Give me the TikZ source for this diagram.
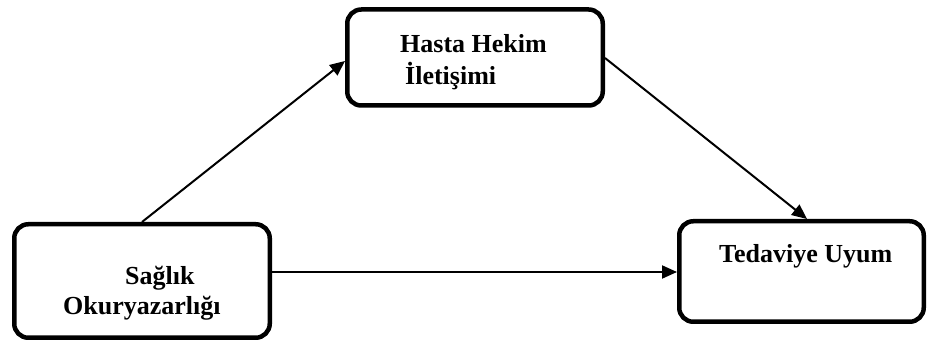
\documentclass[tikz,border=0pt]{standalone}
\usepackage{fontspec}
\setmainfont{Liberation Serif}
\usetikzlibrary{arrows.meta}
\begin{document}
\begin{tikzpicture}[x=1pt,y=-1pt,
  box/.style={draw=black, line width=4.5pt, rounded corners=14pt, inner sep=0pt},
  lbl/.style={font=\bfseries\fontsize{26}{30}\selectfont, inner sep=0pt, anchor=base west},
  conn/.style={line width=2pt, -{Triangle[length=15pt,width=13pt]}}]
\useasboundingbox (0,0) rectangle (927,347);
% boxes
\node[box, minimum width=255.5pt, minimum height=96pt] (hh) at (475,57.5) {};
\node[box, minimum width=255.5pt, minimum height=113.5pt] (sa) at (142,281) {};
\node[box, minimum width=244.5pt, minimum height=100.5pt] (tu) at (801.5,271.5) {};
% texts
\node[lbl] (t1) at (400,53) {Hasta Hekim};
\node[lbl] (t2) at (405,85) {İletişimi};
\node[lbl] (t3) at (125,285) {Sağlık};
\node[lbl] (t4) at (63,315) {Okuryazarlığı};
\node[lbl] (t5) at (719,263) {Tedaviye Uyum};
% connectors
\draw[conn] (sa.north west) ++(130,0) coordinate (s1) -- (hh.west |- 0,61) ;
\draw[conn] (hh.east |- 0,58) coordinate (s2) -- (807,219) coordinate (e2);
\draw[conn] (sa.east |- 0,272) -- (tu.west |- 0,272);
\end{tikzpicture}
\end{document}
